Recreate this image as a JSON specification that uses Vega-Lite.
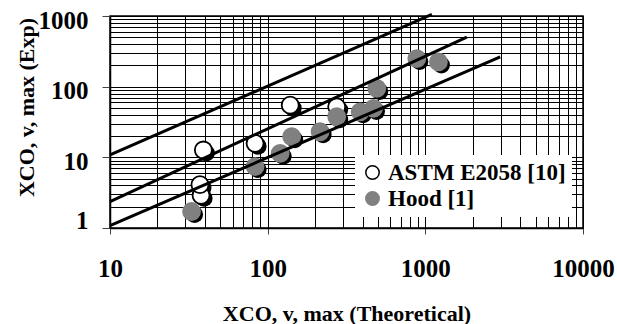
{
  "$schema": "https://vega.github.io/schema/vega-lite/v6.json",
  "width": 473,
  "height": 212,
  "autosize": {"type": "none"},
  "padding": {"left": 110, "top": 16, "right": 34, "bottom": 96},
  "background": "white",
  "config": {"view": {"stroke": "black", "strokeWidth": 1.5}, "font": "Liberation Serif"},
  "datasets": {
    "points": [
      {"series": "ASTM E2058 [10]", "x": 39.1, "y": 12.7},
      {"series": "ASTM E2058 [10]", "x": 37.8, "y": 2.9},
      {"series": "ASTM E2058 [10]", "x": 37.2, "y": 4.1},
      {"series": "ASTM E2058 [10]", "x": 83.2, "y": 15.8},
      {"series": "ASTM E2058 [10]", "x": 139, "y": 54.8},
      {"series": "ASTM E2058 [10]", "x": 274, "y": 51.9},
      {"series": "Hood [1]", "x": 32.9, "y": 1.71},
      {"series": "Hood [1]", "x": 83.2, "y": 7.4},
      {"series": "Hood [1]", "x": 120, "y": 11.4},
      {"series": "Hood [1]", "x": 142, "y": 19.6},
      {"series": "Hood [1]", "x": 215, "y": 23},
      {"series": "Hood [1]", "x": 274, "y": 37.5},
      {"series": "Hood [1]", "x": 386, "y": 44.1},
      {"series": "Hood [1]", "x": 469, "y": 49.3},
      {"series": "Hood [1]", "x": 492, "y": 94.4},
      {"series": "Hood [1]", "x": 883, "y": 250},
      {"series": "Hood [1]", "x": 1211, "y": 224}
    ],
    "lines": [
      {"line": "a", "x": 10, "y": 10.8},
      {"line": "a", "x": 1100, "y": 1054},
      {"line": "b", "x": 10, "y": 2.37},
      {"line": "b", "x": 1833, "y": 504},
      {"line": "c", "x": 10, "y": 1.08},
      {"line": "c", "x": 2985, "y": 263}
    ]
  },
  "encoding": {
    "x": {
      "field": "x", "type": "quantitative",
      "scale": {"type": "log", "domain": [10, 10000], "nice": false},
      "axis": {
        "values": [10,20,30,40,50,60,70,80,90,100,200,300,400,500,600,700,800,900,1000,2000,3000,4000,5000,6000,7000,8000,9000,10000],
        "grid": true, "gridColor": "black", "gridWidth": 1, "gridOpacity": 1,
        "domain": true, "domainColor": "black", "domainWidth": 1.5,
        "ticks": true, "tickColor": "#444", "tickSize": 6, "tickWidth": 1,
        "tickOpacity": {"condition": {"test": "abs(log(datum.value)/LN10 - round(log(datum.value)/LN10)) < 0.001", "value": 1}, "value": 0},
        "labelExpr": "abs(log(datum.value)/LN10 - round(log(datum.value)/LN10)) < 0.001 ? format(datum.value, 'd') : ''",
        "labelFont": "Liberation Serif", "labelFontWeight": "bold", "labelFontSize": 25, "labelColor": "black",
        "labelOverlap": false, "labelFlush": false, "labelBound": false,
        "labelBaseline": "alphabetic", "labelPadding": 42,
        "title": "XCO, v, max (Theoretical)",
        "titleFont": "Liberation Serif", "titleFontSize": 22, "titleFontWeight": "bold", "titleColor": "black",
        "titleY": 92, "titleBaseline": "alphabetic"
      }
    },
    "y": {
      "field": "y", "type": "quantitative",
      "scale": {"type": "log", "domain": [1, 1000], "nice": false},
      "axis": {
        "values": [1,2,3,4,5,6,7,8,9,10,20,30,40,50,60,70,80,90,100,200,300,400,500,600,700,800,900,1000],
        "grid": true, "gridColor": "black", "gridWidth": 1, "gridOpacity": 1,
        "domain": true, "domainColor": "black", "domainWidth": 1.5,
        "ticks": true, "tickColor": "#444", "tickSize": 8, "tickWidth": 1,
        "tickOpacity": {"condition": {"test": "abs(log(datum.value)/LN10 - round(log(datum.value)/LN10)) < 0.001", "value": 1}, "value": 0},
        "labelExpr": "abs(log(datum.value)/LN10 - round(log(datum.value)/LN10)) < 0.001 ? format(datum.value, 'd') : ''",
        "labelFont": "Liberation Serif", "labelFontWeight": "bold", "labelFontSize": 25, "labelColor": "black",
        "labelOverlap": false, "labelFlush": false, "labelBound": false,
        "labelBaseline": "middle", "labelPadding": 14,
        "labelOffset": {"condition": {"test": "datum.value == 1", "value": -8}, "value": 4},
        "title": "XCO, v, max (Exp)",
        "titleFont": "Liberation Serif", "titleFontSize": 22, "titleFontWeight": "bold", "titleColor": "black",
        "titleX": -77, "titleY": 91, "titleBaseline": "alphabetic", "titleAngle": -90
      }
    }
  },
  "layer": [
    {
      "data": {"name": "points"},
      "transform": [{"filter": "datum.series == 'ASTM E2058 [10]'"}],
      "mark": {"type": "circle", "size": 290, "opacity": 1, "color": "black", "xOffset": 3, "yOffset": 3}
    },
    {
      "data": {"name": "points"},
      "transform": [{"filter": "datum.series == 'ASTM E2058 [10]'"}],
      "mark": {"type": "circle", "size": 290, "opacity": 1, "strokeWidth": 1.8},
      "encoding": {
        "fill": {"field": "series", "type": "nominal", "scale": {"domain": ["ASTM E2058 [10]", "Hood [1]"], "range": ["white", "#808080"]},
          "legend": {"orient": "none", "legendX": 245, "legendY": 139, "fillColor": "white", "padding": 6, "title": null,
            "labelFont": "Liberation Serif", "labelFontSize": 23, "labelFontWeight": "bold", "labelColor": "black", "labelLimit": 400,
            "symbolSize": 180, "symbolStrokeWidth": 1.5, "symbolType": "circle", "rowPadding": 2, "labelOffset": 4}},
        "stroke": {"field": "series", "type": "nominal", "scale": {"domain": ["ASTM E2058 [10]", "Hood [1]"], "range": ["black", "#808080"]},
          "legend": {"orient": "none", "legendX": 245, "legendY": 139, "fillColor": "white", "padding": 6, "title": null,
            "labelFont": "Liberation Serif", "labelFontSize": 23, "labelFontWeight": "bold", "labelColor": "black", "labelLimit": 400,
            "symbolSize": 180, "symbolStrokeWidth": 1.5, "symbolType": "circle", "rowPadding": 2, "labelOffset": 4}}
      }
    },
    {
      "data": {"name": "points"},
      "transform": [{"filter": "datum.series == 'Hood [1]'"}],
      "mark": {"type": "circle", "size": 290, "opacity": 1, "color": "black", "xOffset": 3, "yOffset": 3}
    },
    {
      "data": {"name": "points"},
      "transform": [{"filter": "datum.series == 'Hood [1]'"}],
      "mark": {"type": "circle", "size": 290, "opacity": 1, "strokeWidth": 1.8},
      "encoding": {
        "fill": {"field": "series", "type": "nominal"},
        "stroke": {"field": "series", "type": "nominal"}
      }
    },
    {
      "data": {"name": "lines"},
      "mark": {"type": "line", "color": "black", "strokeWidth": 3, "clip": false},
      "encoding": {"detail": {"field": "line", "type": "nominal"}}
    }
  ]
}
